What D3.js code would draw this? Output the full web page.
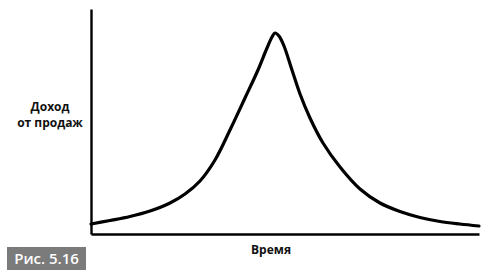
<!DOCTYPE html>
<html>
<head>
<meta charset="utf-8">
<script src="https://cdn.jsdelivr.net/npm/d3@7/dist/d3.min.js"></script>
<style>
  html, body { margin: 0; padding: 0; background: #fff; }
  svg { display: block; }
</style>
</head>
<body>
<svg id="chart" width="488" height="277"></svg>
<script>
// Data (time in % of axis length, revenue in % of axis height)
const time    = [0, 4.90, 10.05, 15.21, 20.36, 24.23, 28.09, 31.96, 35.82, 39.69, 43.04, 45.36, 46.65, 47.42, 48.45, 49.74, 51.80, 53.87, 56.44, 59.79, 64.18, 69.33, 74.48, 79.64, 84.79, 89.95, 95.10, 100];
const revenue = [4.44, 6.00, 7.78, 10.22, 13.78, 17.78, 23.56, 32.89, 46.22, 60.44, 72.89, 82.67, 87.56, 89.33, 88.00, 83.56, 72.89, 62.22, 51.56, 40.44, 29.78, 20.00, 13.78, 10.00, 7.33, 5.56, 4.44, 3.56];
const yLabelLines = ["Доход", "от продаж"];
const xLabel = "Время";
const figureLabel = "Рис. 5.16";

const svg = d3.select("#chart");
const mLeft = 91, mRight = 479, mTop = 9, mBottom = 234;

const x = d3.scaleLinear().domain([0, 100]).range([mLeft, mRight]);
const y = d3.scaleLinear().domain([0, 100]).range([mBottom, mTop]);

// Axes (lines only, no ticks)
svg.append("g")
  .attr("transform", `translate(${mLeft},0)`)
  .call(d3.axisLeft(y).tickValues([]).tickSizeOuter(0))
  .call(g => g.select(".domain").attr("stroke", "#000").attr("stroke-width", 2.4));

svg.append("g")
  .attr("transform", `translate(0,${mBottom})`)
  .call(d3.axisBottom(x).tickValues([]).tickSizeOuter(0))
  .call(g => g.select(".domain").attr("stroke", "#000").attr("stroke-width", 2.4));

// Curve
const pts = time.map((t, i) => [t, revenue[i]]);
const line = d3.line()
  .x(d => x(d[0]))
  .y(d => y(d[1]))
  .curve(d3.curveCatmullRom.alpha(0.5));

svg.append("path")
  .datum(pts)
  .attr("d", line)
  .attr("fill", "none")
  .attr("stroke", "#000")
  .attr("stroke-width", 3.2)
  .attr("stroke-linejoin", "round")
  .attr("stroke-linecap", "round");

// Y label (two lines)
yLabelLines.forEach((s, i) => {
  svg.append("text")
    .attr("x", 50).attr("y", 111 + i * 16)
    .attr("text-anchor", "middle")
    .attr("font-family", "'Open Sans', sans-serif")
    .attr("font-weight", "700")
    .attr("font-size", 12)
    .attr("fill", "#111")
    .text(s);
});

// X label
svg.append("text")
  .attr("x", 271).attr("y", 254)
  .attr("text-anchor", "middle")
  .attr("font-family", "'Open Sans', sans-serif")
  .attr("font-weight", "700")
  .attr("font-size", 12)
  .attr("fill", "#111")
  .text(xLabel);

// Figure badge
svg.append("rect")
  .attr("x", 7).attr("y", 247).attr("width", 79).attr("height", 23)
  .attr("fill", "#7b7b7b");
svg.append("text")
  .attr("x", 46.5).attr("y", 264)
  .attr("text-anchor", "middle")
  .attr("font-family", "'Open Sans', sans-serif")
  .attr("font-weight", "600")
  .attr("font-size", 15)
  .attr("fill", "#fff")
  .text(figureLabel);
</script>
</body>
</html>
